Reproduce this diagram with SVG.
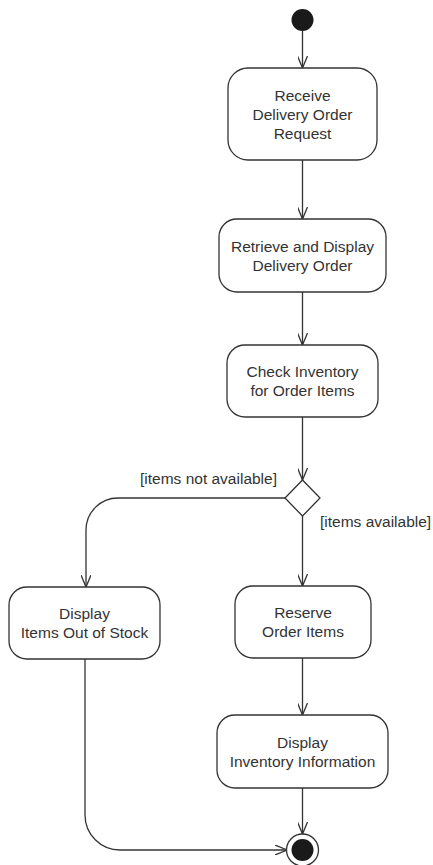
<svg xmlns="http://www.w3.org/2000/svg" width="433" height="865" viewBox="0 0 433 865">
<style>
.node rect{fill:#fff;stroke:#333;stroke-width:1.3}
.t{font-family:"Liberation Sans",Arial,sans-serif;font-size:15.5px;fill:#333;text-anchor:middle}
.lbl{font-family:"Liberation Sans",Arial,sans-serif;font-size:15.5px;fill:#333}
#connectors path{fill:none;stroke:#333;stroke-width:1.3;marker-end:url(#arr)}
</style>
<defs>
<marker id="arr" viewBox="0 0 12 10" refX="12" refY="5" markerWidth="12" markerHeight="10" markerUnits="userSpaceOnUse" orient="auto">
<path d="M0,0 L12,5 L0,10" fill="none" stroke="#333" stroke-width="1.3"/>
</marker>
</defs>
<rect width="433" height="865" fill="#fff"/>
<g id="connectors">
<path d="M302.5,31 V68"/>
<path d="M302.5,160 V219"/>
<path d="M302.5,292 V345"/>
<path d="M302.5,417 V480"/>
<path d="M286,498 H118 A32,32 0 0 0 86,530 V587"/>
<path d="M302.5,516 V586"/>
<path d="M302.5,658 V715"/>
<path d="M302.5,788 V834"/>
<path d="M85,659 V815 A35,35 0 0 0 120,850 H287"/>
</g>
<g id="start"><circle cx="302.5" cy="20" r="11" fill="#1a1a1a"/></g>
<g id="n1" class="node"><rect x="228" y="68" width="149" height="92" rx="20"/>
<text class="t" x="302.5" y="101">Receive</text><text class="t" x="302.5" y="120">Delivery Order</text><text class="t" x="302.5" y="139">Request</text></g>
<g id="n2" class="node"><rect x="219" y="219" width="167" height="73" rx="18"/>
<text class="t" x="302.5" y="252">Retrieve and Display</text><text class="t" x="302.5" y="271">Delivery Order</text></g>
<g id="n3" class="node"><rect x="227" y="345" width="151" height="72" rx="18"/>
<text class="t" x="302.5" y="377">Check Inventory</text><text class="t" x="302.5" y="396">for Order Items</text></g>
<g id="decision"><path d="M302.5,480 L320,498 L302.5,516 L285,498 Z" fill="#fff" stroke="#333" stroke-width="1.3"/></g>
<text class="lbl" x="140" y="484">[items not available]</text>
<text class="lbl" x="320" y="527">[items available]</text>
<g id="n4" class="node"><rect x="9" y="587" width="151" height="72" rx="18"/>
<text class="t" x="84.5" y="619">Display</text><text class="t" x="84.5" y="638">Items Out of Stock</text></g>
<g id="n5" class="node"><rect x="235" y="586" width="136" height="72" rx="18"/>
<text class="t" x="303" y="618">Reserve</text><text class="t" x="303" y="637">Order Items</text></g>
<g id="n6" class="node"><rect x="217" y="715" width="171" height="73" rx="18"/>
<text class="t" x="302.5" y="748">Display</text><text class="t" x="302.5" y="767">Inventory Information</text></g>
<g id="final"><circle cx="302.5" cy="850" r="16" fill="#fff" stroke="#333" stroke-width="1.3"/><circle cx="302.5" cy="850" r="11" fill="#1a1a1a"/></g>
</svg>
